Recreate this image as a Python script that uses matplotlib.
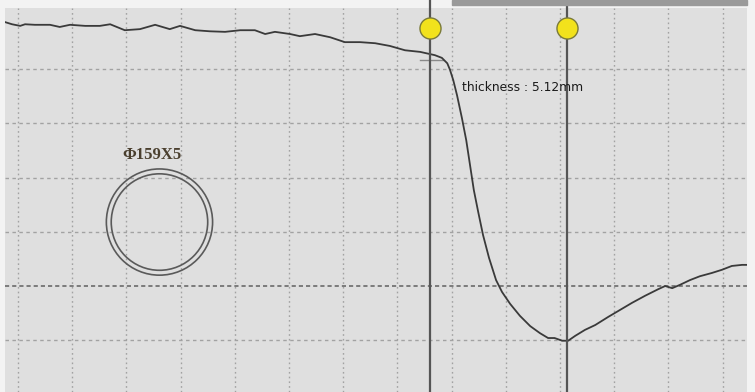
import matplotlib
matplotlib.use("Agg")
import matplotlib.pyplot as plt
from matplotlib.patches import Circle, Rectangle

# A-scan trace, in screen divisions (x: horizontal divisions, y: divisions from centre line)
trace_x = [-0.24, -0.11, 0.04, 0.13, 0.31, 0.59, 0.77, 0.96, 1.24, 1.51, 1.70, 1.97,
           2.25, 2.53, 2.80, 2.99, 3.27, 3.54, 3.82, 4.10, 4.37, 4.56, 4.74, 5.02,
           5.20, 5.48, 5.76, 6.03, 6.31, 6.59, 6.86, 7.14, 7.42, 7.69, 7.82, 7.92,
           7.97, 8.03, 8.10, 8.19, 8.27, 8.34, 8.41, 8.49, 8.58, 8.69, 8.82, 8.93,
           9.08, 9.26, 9.45, 9.63, 9.78, 9.90, 10.04, 10.15, 10.28, 10.46, 10.65,
           10.89, 11.11, 11.33, 11.57, 11.81, 11.94, 12.07, 12.21, 12.40, 12.58,
           12.80, 12.99, 13.17, 13.36, 13.51]
trace_y = [4.87, 4.83, 4.80, 4.83, 4.82, 4.82, 4.78, 4.82, 4.80, 4.80, 4.83, 4.72,
           4.74, 4.82, 4.74, 4.80, 4.72, 4.70, 4.69, 4.72, 4.72, 4.65, 4.69, 4.65,
           4.61, 4.65, 4.59, 4.50, 4.50, 4.48, 4.43, 4.35, 4.32, 4.26, 4.21, 4.11,
           3.99, 3.80, 3.52, 3.10, 2.69, 2.23, 1.77, 1.37, 0.94, 0.52, 0.11, -0.11,
           -0.33, -0.55, -0.74, -0.87, -0.96, -0.96, -1.01, -1.01, -0.92, -0.81, -0.72,
           -0.57, -0.44, -0.31, -0.18, -0.06, 0.00, -0.04, 0.02, 0.11, 0.18,
           0.24, 0.30, 0.37, 0.39, 0.39]

# gate cursors
cursor_x = [7.60, 10.13]
cursor_handle_y = 4.76

grid_cols = list(range(0, 14))
grid_rows = [-1, 1, 2, 3, 4]

label_text = "thickness : 5.12mm"
pipe_text = "\u03a6159X5"
pipe_center = (2.61, 1.18)

fig = plt.figure(figsize=(7.55, 3.92), dpi=100, facecolor="#f3f3f3")
ax = fig.add_axes([5 / 755, 0, 742 / 755, 384 / 392])
ax.set_facecolor("#dfdfdf")
ax.set_xlim(-0.24, 13.45)
ax.set_ylim(-1.956, 5.13)
ax.set_xticks([])
ax.set_yticks([])
for s in ax.spines.values():
    s.set_visible(False)

# screen graticule
for gx in grid_cols:
    ax.axvline(gx, color="#a2a2a2", lw=1.0, ls=(0, (1.2, 2.2)), zorder=1)
for gy in grid_rows:
    ax.axhline(gy, color="#a2a2a2", lw=1.0, ls=(0, (2.5, 2.5)), zorder=1)
ax.axhline(0, color="#6a6a6a", lw=1.2, ls=(0, (2.5, 1.8)), zorder=1)

# pipe cross-section sketch
for r in (0.98, 0.89):
    ax.add_patch(Circle(pipe_center, r, fill=False, ec="#5a5a5a", lw=1.2, zorder=2))
ax.text(1.93, 2.42, pipe_text, family="Liberation Serif", fontsize=12,
        fontweight="bold", color="#4a3f2e", va="center", ha="left", zorder=3)

# echo trace
ax.plot(trace_x, trace_y, color="#3a3a3a", lw=1.3, zorder=4)
ax.plot([7.42, 7.85], [4.17, 4.17], color="#8a8a8a", lw=1.0, zorder=3)

# cursors with handles
for cx in cursor_x:
    ax.axvline(cx, ymin=0, ymax=1.03, color="#555555", lw=1.6, clip_on=False, zorder=5)
ax.scatter(cursor_x, [cursor_handle_y] * len(cursor_x), s=230, color="#f2e21c",
           edgecolor="#7a7a3a", linewidth=1.0, zorder=6)

ax.text(8.19, 3.67, label_text, fontsize=8.8, color="#1a1a1a", va="center",
        ha="left", zorder=7)

# dark strip along the top edge
fig.patches.append(Rectangle((452 / 755, 387 / 392), 295 / 755, 5 / 392,
                             transform=fig.transFigure, color="#9a9a9a", zorder=0))

fig.savefig("out.png", dpi=100, facecolor=fig.get_facecolor())
